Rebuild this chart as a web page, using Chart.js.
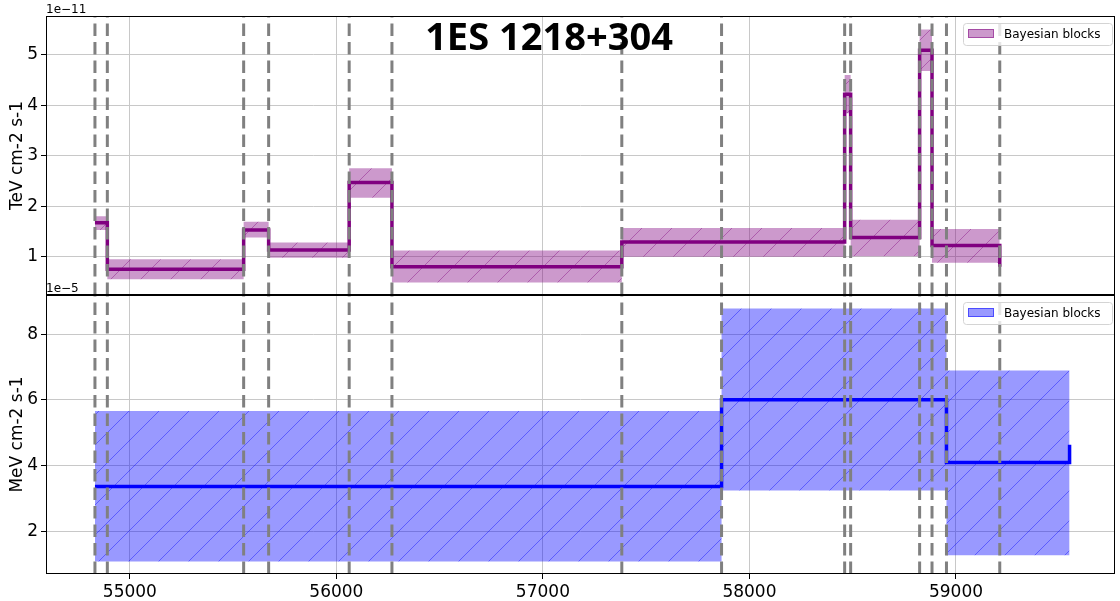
<!DOCTYPE html>
<html>
<head>
<meta charset="utf-8">
<script src="https://cdn.jsdelivr.net/npm/chart.js@4.4.1/dist/chart.umd.min.js"></script>
<style>
  html, body { margin: 0; padding: 0; background: #fff; }
  #wrap { position: relative; width: 1120px; height: 601px; }
</style>
</head>
<body>
<div id="wrap"><canvas id="lc" width="1120" height="601"></canvas></div>
<script>
// TeV panel: block edges (MJD) and flux per block, units of 1e-11
const tevEdges = [54831, 54891, 55551, 55672, 56062, 56269, 57382, 58461, 58490, 58824, 58884, 59212];
const tevFlux  = [1.67, 0.75, 1.53, 1.13, 2.47, 0.80, 1.29, 4.22, 1.38, 5.09, 1.22];
const tevLow   = [1.53, 0.55, 1.38, 0.98, 2.17, 0.49, 1.00, 3.84, 1.01, 4.68, 0.88];
const tevHigh  = [1.80, 0.95, 1.69, 1.28, 2.75, 1.12, 1.57, 4.60, 1.73, 5.50, 1.55];
const tevEnd   = 0.80;

// MeV panel: units of 1e-5
const mevEdges = [54831, 57865, 58954, 59550];
const mevFlux  = [3.36, 6.00, 4.09];
const mevLow   = [1.08, 3.24, 1.27];
const mevHigh  = [5.66, 8.78, 6.89];
const mevEnd   = 4.63;

// change points (dashed lines), union of both panels
const changePoints = [54831, 54891, 55551, 55672, 56062, 56269, 57382, 57865, 58461, 58490, 58824, 58884, 58954, 59212];

const xTicks = [55000, 56000, 57000, 58000, 59000];
const tevTicks = [1, 2, 3, 4, 5];
const mevTicks = [2, 4, 6, 8];

// step points: one per block start, plus the closing edge
function steps(edges, vals, end) {
    const pts = vals.map((v, i) => ({ x: edges[i], y: v }));
    pts.push({ x: edges[edges.length - 1], y: end === undefined ? vals[vals.length - 1] : end });
    return pts;
}

// "/" hatch on a translucent fill
function hatch(fill, line) {
    const s = 30;
    const c = document.createElement('canvas');
    c.width = s; c.height = s;
    const g = c.getContext('2d');
    g.fillStyle = fill;
    g.fillRect(0, 0, s, s);
    g.strokeStyle = line;
    g.lineWidth = 1;
    g.beginPath();
    for (const off of [-s, 0, s]) {
        g.moveTo(off, s);
        g.lineTo(off + s, 0);
    }
    g.stroke();
    return g.createPattern(c, 'repeat');
}

const tickFont = { family: 'DejaVu Sans', size: 17 };
const gridColor = '#c8c8c8';

function yAxis(min, max, ticks, title) {
    return {
        type: 'linear', position: 'left', stack: 'panels', stackWeight: 1,
        min: min, max: max,
        afterBuildTicks: s => { s.ticks = ticks.map(v => ({ value: v })); },
        afterFit: s => { s.width = 46; },
        ticks: { font: tickFont, color: '#000', padding: 3 },
        grid: { color: gridColor, lineWidth: 1, tickLength: 5, tickColor: '#000' },
        border: { display: false },
        title: { display: true, text: title, color: '#000', font: tickFont, padding: { top: 7, bottom: 0 } }
    };
}

function drawLegend(ctx, right, top, fill, edge) {
    const w = 149, h = 22, x = right - 3 - w, y = top + 7;
    ctx.save();
    ctx.beginPath();
    ctx.roundRect(x + 0.5, y + 0.5, w, h, 3);
    ctx.fillStyle = 'rgba(255,255,255,0.8)';
    ctx.fill();
    ctx.strokeStyle = '#d4d4d4';
    ctx.lineWidth = 1;
    ctx.stroke();
    ctx.fillStyle = fill;
    ctx.fillRect(x + 5, y + 6, 26, 9);
    ctx.strokeStyle = edge;
    ctx.strokeRect(x + 5.5, y + 6.5, 25, 8);
    ctx.fillStyle = '#000';
    ctx.font = '12px "DejaVu Sans"';
    ctx.textBaseline = 'middle';
    ctx.textAlign = 'left';
    ctx.fillText('Bayesian blocks', x + 41, y + 11.5);
    ctx.restore();
}

const decor = {
    id: 'decor',
    afterDatasetsDraw(chart) {
        const ctx = chart.ctx, xs = chart.scales.x;
        ctx.save();
        ctx.strokeStyle = '#808080';
        ctx.lineWidth = 3;
        ctx.setLineDash([12.5, 6]);
        for (const id of ['yTev', 'yMev']) {
            const ys = chart.scales[id];
            for (const cp of changePoints) {
                const px = xs.getPixelForValue(cp);
                ctx.beginPath();
                ctx.moveTo(px, ys.bottom);
                ctx.lineTo(px, ys.top);
                ctx.stroke();
            }
        }
        ctx.restore();
    },
    afterDraw(chart) {
        const ctx = chart.ctx, a = chart.chartArea;
        const top = chart.scales.yTev, bot = chart.scales.yMev;
        ctx.save();
        ctx.strokeStyle = '#000';
        ctx.lineWidth = 1;
        for (const s of [top, bot]) {
            ctx.strokeRect(Math.round(a.left) + 0.5, Math.round(s.top) + 0.5,
                Math.round(a.right - a.left) - 1, Math.round(s.bottom - s.top) - 1);
        }
        ctx.fillStyle = '#000';
        ctx.font = '12px "DejaVu Sans"';
        ctx.textAlign = 'left';
        ctx.textBaseline = 'alphabetic';
        ctx.fillText('1e\u221211', a.left, top.top - 3);
        ctx.fillText('1e\u22125', a.left, bot.top - 3);
        ctx.font = 'bold 38px "Noto Sans"';
        ctx.textAlign = 'center';
        ctx.fillText('1ES 1218+304', 549, 50);
        ctx.restore();
        drawLegend(ctx, a.right, top.top, 'rgba(128,0,128,0.4)', 'rgba(128,0,128,0.5)');
        drawLegend(ctx, a.right, bot.top, 'rgba(0,0,255,0.4)', 'rgba(0,0,255,0.5)');
    }
};

// 'before' in Chart.js = horizontal to the next point, then vertical
const stepLine = { pointRadius: 0, stepped: 'before', fill: false };

new Chart(document.getElementById('lc'), {
    type: 'line',
    data: {
        datasets: [
            { ...stepLine, data: steps(tevEdges, tevFlux, tevEnd), yAxisID: 'yTev', borderColor: '#800080', borderWidth: 3.5 },
            { ...stepLine, data: steps(mevEdges, mevFlux, mevEnd), yAxisID: 'yMev', borderColor: '#0000ff', borderWidth: 3.5 },
            { ...stepLine, label: 'Bayesian blocks', data: steps(tevEdges, tevHigh), yAxisID: 'yTev', borderWidth: 0,
              backgroundColor: hatch('rgba(128,0,128,0.4)', 'rgba(128,0,128,0.4)'), fill: '+1' },
            { ...stepLine, data: steps(tevEdges, tevLow), yAxisID: 'yTev', borderWidth: 0 },
            { ...stepLine, label: 'Bayesian blocks', data: steps(mevEdges, mevHigh), yAxisID: 'yMev', borderWidth: 0,
              backgroundColor: hatch('rgba(0,0,255,0.4)', 'rgba(0,0,255,0.4)'), fill: '+1' },
            { ...stepLine, data: steps(mevEdges, mevLow), yAxisID: 'yMev', borderWidth: 0 }
        ]
    },
    options: {
        responsive: false,
        animation: false,
        events: [],
        layout: { padding: { top: 16, right: 5, left: 0, bottom: 0 } },
        plugins: { legend: { display: false }, tooltip: { enabled: false } },
        scales: {
            x: {
                type: 'linear', min: 54594, max: 59770,
                afterBuildTicks: s => { s.ticks = xTicks.map(v => ({ value: v })); },
                afterFit: s => { s.height = 27; },
                ticks: { font: tickFont, color: '#000', padding: 3, maxRotation: 0, callback: v => String(v) },
                grid: { color: gridColor, lineWidth: 1, tickLength: 5, tickColor: '#000' },
                border: { display: false }
            },
            yMev: yAxis(0.70, 9.19, mevTicks, 'MeV cm-2 s-1'),
            yTev: yAxis(0.24, 5.77, tevTicks, 'TeV cm-2 s-1')
        }
    },
    plugins: [decor]
});
</script>
</body>
</html>
